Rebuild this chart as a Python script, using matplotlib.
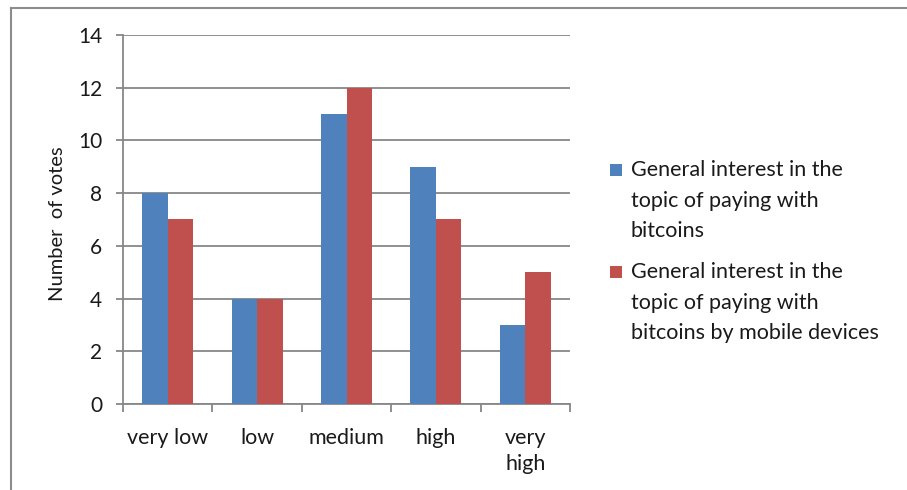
import matplotlib
matplotlib.use("Agg")
import matplotlib.pyplot as plt
import numpy as np
from matplotlib.patches import Rectangle
from matplotlib.lines import Line2D

plt.rcParams['font.family'] = ['Lato', 'DejaVu Sans']

categories = ["very low", "low", "medium", "high", "very\nhigh"]
general_interest = [8, 4, 11, 9, 3]
mobile_interest = [7, 4, 12, 7, 5]
series_labels = [
    "General interest in the\ntopic of paying with\nbitcoins",
    "General interest in the\ntopic of paying with\nbitcoins by mobile devices",
]
series_colors = ["#4F81BD", "#C0504D"]
y_ticks = [0, 2, 4, 6, 8, 10, 12, 14]

grid_col = "#878787"
text_col = "#1a1a1a"

W, H = 907, 490
fig = plt.figure(figsize=(W / 100, H / 100), dpi=100)
ax = fig.add_axes([123 / W, 1 - 404 / H, (570 - 123) / W, (404 - 35) / H])

x = np.arange(len(categories))
w = 1 / 3.5
ax.bar(x - w / 2, general_interest, width=w, color=series_colors[0], zorder=3)
ax.bar(x + w / 2, mobile_interest, width=w, color=series_colors[1], zorder=3)

ax.set_xlim(-0.5, len(categories) - 0.5)
ax.set_ylim(0, 14)
ax.set_yticks(y_ticks)
ax.set_yticklabels([str(t) for t in y_ticks], fontsize=15, color=text_col)
ax.yaxis.grid(True, color=grid_col, linewidth=1.3, zorder=0)
ax.set_axisbelow(True)

# category labels centred under each group, tick marks on group boundaries
ax.set_xticks(np.arange(-0.5, len(categories), 1.0))
ax.set_xticklabels([])
ax.set_xticks(x, minor=True)
ax.set_xticklabels(categories, minor=True, fontsize=15.5, color=text_col,
                   linespacing=1.4, va="top")
ax.tick_params(axis="x", which="minor", length=0, pad=17)
ax.tick_params(axis="x", which="major", length=5.5, width=1.3, color=grid_col, direction="out")
ax.tick_params(axis="y", length=5, width=1.3, color=grid_col, direction="out", pad=10)

for side in ["top", "right"]:
    ax.spines[side].set_visible(False)
for side in ["left", "bottom"]:
    ax.spines[side].set_color(grid_col)
    ax.spines[side].set_linewidth(1.3)

ax.set_ylabel("Number  of votes", fontsize=14.5, color=text_col)
ax.yaxis.set_label_coords((66 - 123) / (570 - 123), 0.49)

# legend drawn beside the plot
legend_first_lines = [170, 272]
line_step = 30.7
for lab, col, y0 in zip(series_labels, series_colors, legend_first_lines):
    fig.patches.append(Rectangle((610 / W, 1 - (y0 + 6) / H), 12 / W, 12 / H,
                                 transform=fig.transFigure, facecolor=col,
                                 edgecolor="none"))
    for i, line in enumerate(lab.split("\n")):
        fig.text(631 / W, 1 - (y0 + i * line_step) / H, line, fontsize=15.5,
                 color=text_col, va="center", ha="left")

# chart frame
fig.add_artist(Line2D([11 / W, 11 / W], [0, 1 - 8 / H], transform=fig.transFigure,
                      color="#8c8c8c", linewidth=1.5))
fig.add_artist(Line2D([11 / W, 1], [1 - 8 / H, 1 - 8 / H], transform=fig.transFigure,
                      color="#8c8c8c", linewidth=1.5))

fig.savefig("out.png", dpi=100, facecolor="white")
